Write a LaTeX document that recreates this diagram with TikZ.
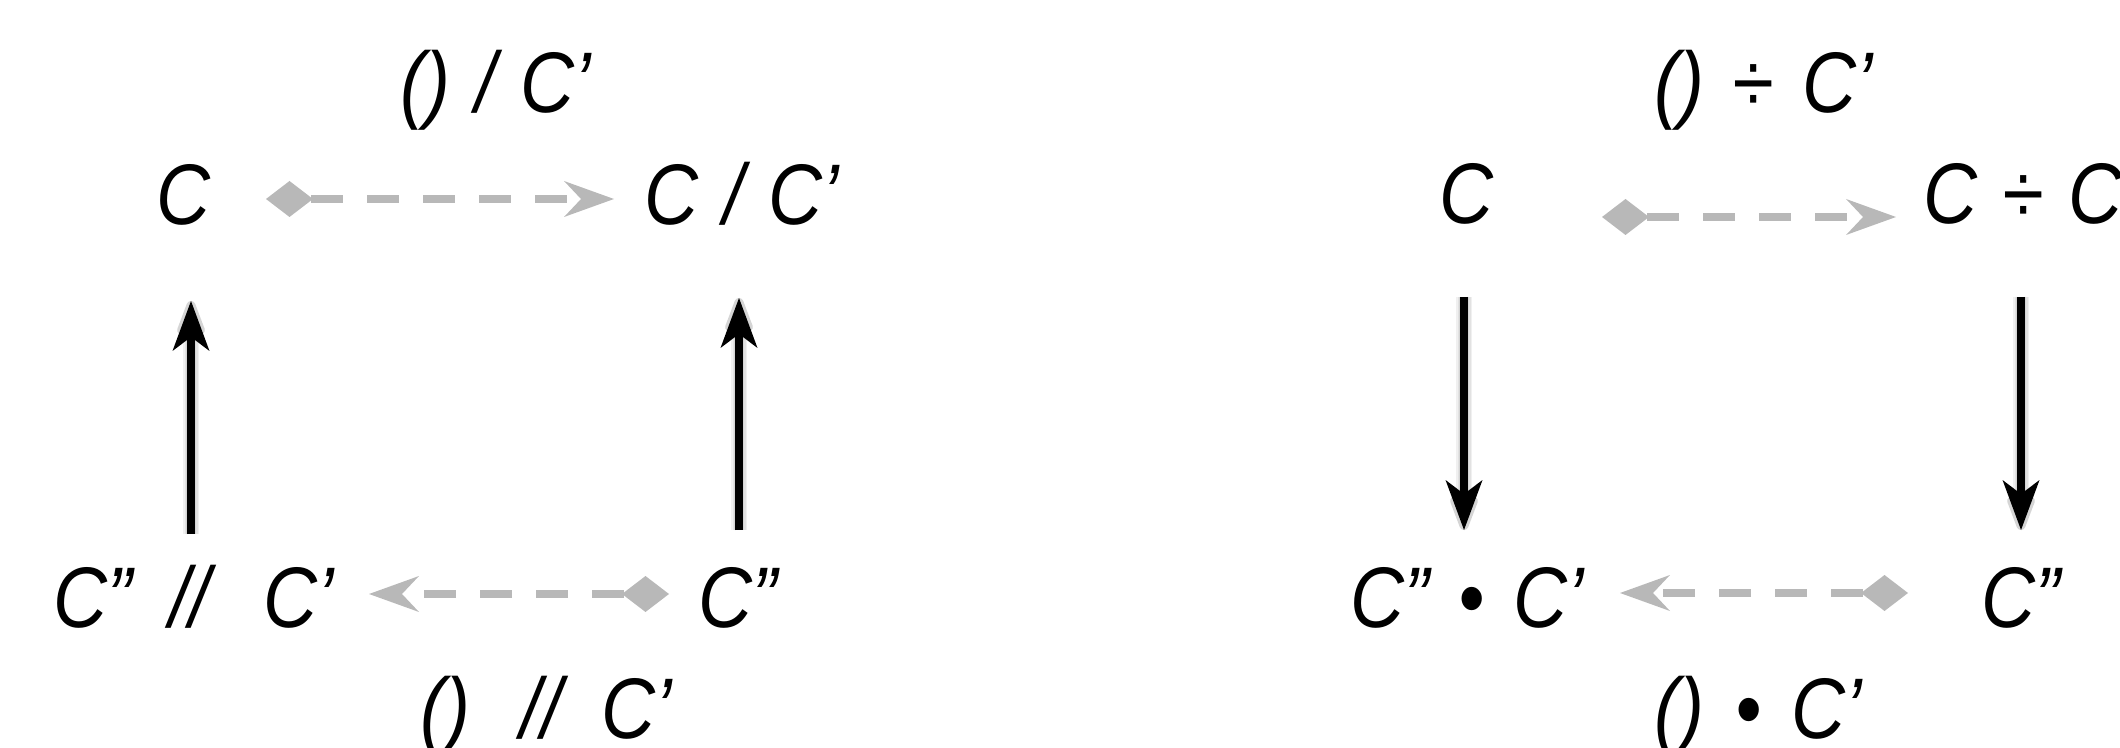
\documentclass[tikz,border=0pt]{standalone}
\usepackage{fontspec}
\setmainfont{Liberation Sans}[FakeStretch=0.87]
\usetikzlibrary{arrows.meta}
\definecolor{linkgray}{HTML}{B8B8B8}
\tikzset{
  term/.style={anchor=base west, inner sep=0pt, font=\fontsize{43}{50}\selectfont\itshape},
  partial/.style={draw=linkgray, line width=4pt, dash pattern=on 16pt off 12pt, dash phase=25pt,
    {Diamond[length=23.5pt,width=18pt,line width=0pt]}-{Stealth[length=25pt,width=18pt,inset=8.5pt,line width=0pt]}},
  total/.style={draw=black, line width=3.6pt,
    -{Stealth[length=25pt,width=18.5pt,inset=7pt,line width=0pt]}},
  halo/.style={draw=black, opacity=0.06, line width=#1, line join=round, shift={(0,2)},
    -{Stealth[length=25pt,width=18.5pt,inset=7pt,round]}},
}
\newcommand\totalarrow[2]{%
  \foreach \hw in {5pt,6.5pt,8pt}{\draw[halo=\hw] (#1) -- (#2);}
  \draw[total] (#1) -- (#2);}
\begin{document}
\begin{tikzpicture}[x=0.5pt,y=-0.5pt]
\useasboundingbox (0,0) rectangle (2120,748);
\clip (0,0) rectangle (2120,748);

% ---- division square ----
\node[term] (divlbl) at (400,113) {()\hspace{2pt} /\hspace{2pt} C’};
\node[term] (cL)     at (156,225) {C};
\node[term] (cdiv)   at (644,225) {C\hspace{2pt} /\hspace{2pt} C’};
\node[term] (cmod)   at (53,627)  {C”\hspace{8pt} //\hspace{16pt} C’};
\node[term] (cppL)   at (698,627) {C”};
\node[term] (modlbl) at (420,738) {()\hspace{15pt} //\hspace{9pt} C’};

\coordinate (dT0) at (266,199); \coordinate (dT1) at (614,199);
\coordinate (dB0) at (669,594); \coordinate (dB1) at (369,594);
\coordinate (uL0) at (191,534); \coordinate (uL1) at (191,301);
\coordinate (uR0) at (739,530); \coordinate (uR1) at (739,298);

\draw[partial] (dT0) -- (dT1);
\draw[partial] (dB0) -- (dB1);
\totalarrow{uL0}{uL1}
\totalarrow{uR0}{uR1}

% ---- quotient / product square ----
\node[term] (quolbl)  at (1654,113) {()\hspace{4pt} ÷\hspace{4pt} C’};
\node[term] (cR)      at (1439,224) {C};
\node[term] (cquo)    at (1923,224) {C\hspace{2pt} ÷\hspace{2pt} C’};
\node[term] (cprod)   at (1350,627) {C”\hspace{4pt} •\hspace{4pt} C’};
\node[term] (cppR)    at (1981,627) {C”};
\node[term] (prodlbl) at (1654,738) {()\hspace{5pt} •\hspace{5pt} C’};

\coordinate (qT0) at (1602,217); \coordinate (qT1) at (1896,217);
\coordinate (qB0) at (1908,593); \coordinate (qB1) at (1620,593);
\coordinate (wL0) at (1464,297); \coordinate (wL1) at (1464,530);
\coordinate (wR0) at (2021,297); \coordinate (wR1) at (2021,530);

\draw[partial] (qT0) -- (qT1);
\draw[partial] (qB0) -- (qB1);
\totalarrow{wL0}{wL1}
\totalarrow{wR0}{wR1}
\end{tikzpicture}
\end{document}
